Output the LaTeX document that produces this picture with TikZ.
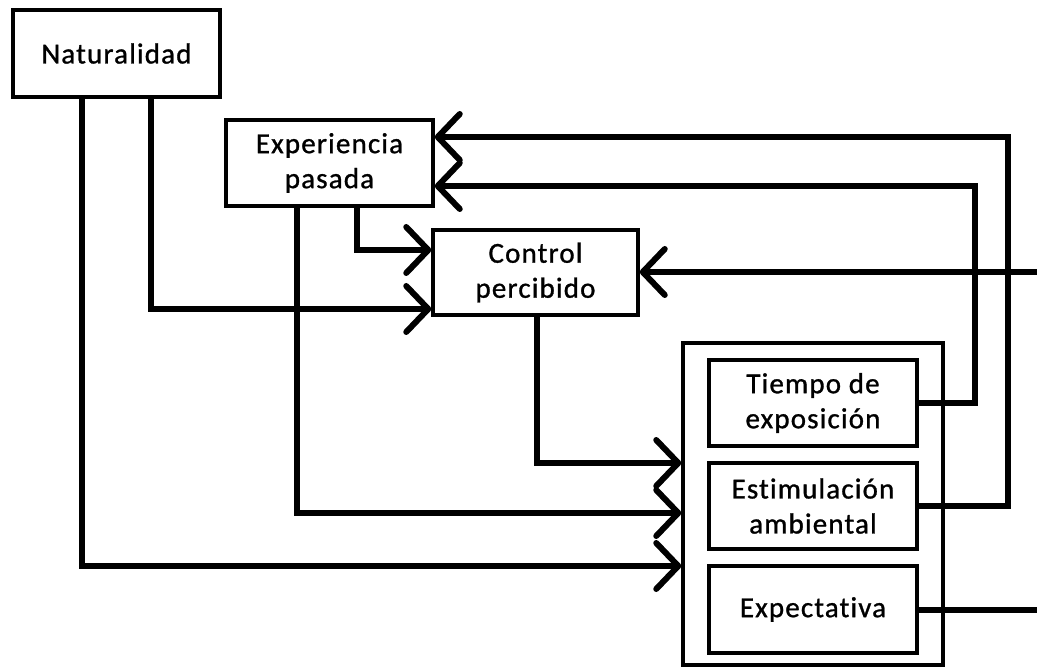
\documentclass[tikz,border=0pt]{standalone}
\usepackage{fontspec}
\setmainfont{Carlito}[LetterSpace=4,FakeBold=1,RawFeature={-liga;-clig}]
\usetikzlibrary{arrows.meta}
\begin{document}
\begin{tikzpicture}[x=1pt,y=-1pt,
  box/.style={draw, line width=3.5pt, inner sep=0pt, align=center,
    font=\fontsize{29}{35}\selectfont},
  link/.style={line width=6pt, -{Straight Barb[length=22pt,width=46pt,round]}},
  wire/.style={line width=6pt}]
\useasboundingbox (0,0) rectangle (1037,668);

% boxes
\node[box, line width=4.5pt, minimum width=207pt, minimum height=87pt] (nat) at (116.5,53.5) {Naturalidad};
\node[box, minimum width=207pt, minimum height=86pt] (exp) at (329.5,163) {Experiencia\\pasada};
\node[box, minimum width=205pt, minimum height=85pt] (ctl) at (535.5,272.5) {Control\\percibido};
\node[box, minimum width=260pt, minimum height=322pt] (grp) at (813,504) {};
\node[box, minimum width=208pt, minimum height=86pt] (tie) at (813,403) {Tiempo de\\exposición};
\node[box, minimum width=208pt, minimum height=86pt] (est) at (813,506) {Estimulación\\ambiental};
\node[box, minimum width=208pt, minimum height=87pt] (expc) at (813,609.5) {Expectativa};

% free ends at the right margin
\coordinate (outA) at (1037,609.5);
\coordinate (inA) at (1037,272);

% connectors
\draw[link] ([xshift=-34.5pt]nat.south) |- (grp.west |- 0,566);
\draw[link] ([xshift=34.5pt]nat.south) |- (ctl.west |- 0,309);
\draw[link] ([xshift=-32.5pt]exp.south) |- (grp.west |- 0,513);
\draw[link] ([xshift=27.5pt]exp.south) |- (ctl.west |- 0,250);
\draw[link] ([xshift=1.5pt]ctl.south) |- (grp.west |- 0,463);
\draw[link] (tie.east) -| (975,186) -- (exp.east |- 0,186);
\draw[link] (est.east) -| (1008,137) -- (exp.east |- 0,137);
\draw[wire] (expc.east) -- (outA);
\draw[link] (inA) -- (ctl.east |- 0,272);
\end{tikzpicture}
\end{document}
